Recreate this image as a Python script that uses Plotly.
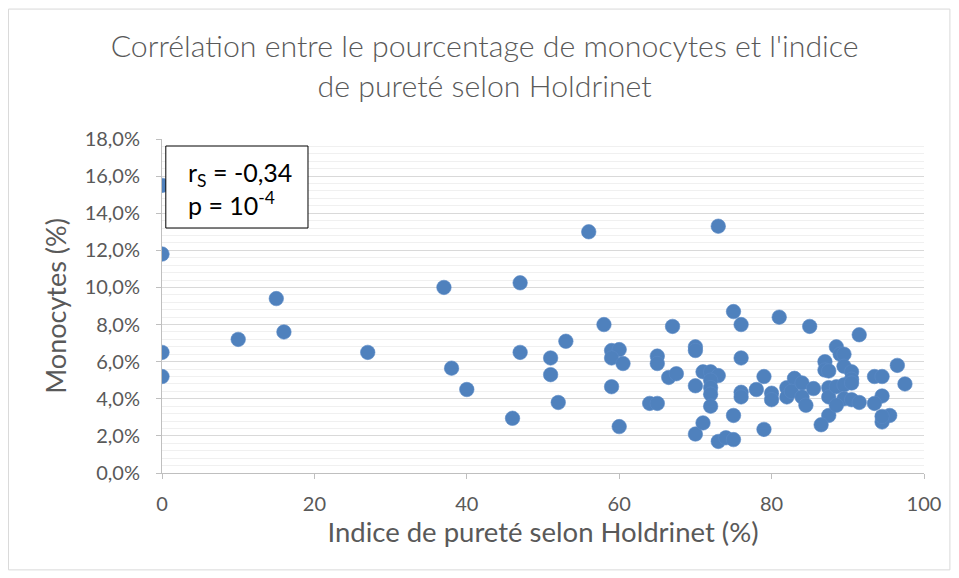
import plotly.graph_objects as go

# Indice de pureté selon Holdrinet (%)
purity = [0, 0, 0, 0, 10, 15, 16, 27, 37, 38, 40, 46, 47, 47, 51, 51, 52, 53, 56, 58,
          59, 60, 59, 60.5, 65, 65, 66.5, 67.5, 59, 64, 65, 60, 67, 70, 70, 70, 70, 71, 71, 72,
          73, 72, 72, 72, 72, 73, 73, 74, 75, 75, 76, 76, 76, 76, 75, 78, 79, 79, 80, 80,
          81, 82, 82, 83, 82.6, 84, 84, 84.5, 85, 85.5, 87, 87, 87.5, 87.5, 87.5, 87.5, 86.5, 88.5, 89, 89.5,
          89.5, 90.5, 90.5, 88.5, 89.5, 90.5, 89.5, 90.5, 91.5, 88.5, 91.5, 93.5, 94.5, 96.5, 97.5, 94.5, 93.5, 95.5, 94.5, 94.5]
# Monocytes (%)
monocytes = [15.5, 11.8, 6.5, 5.2, 7.2, 9.4, 7.6, 6.5, 10.0, 5.65, 4.5, 2.95, 10.25, 6.5, 6.2, 5.3, 3.8, 7.1, 13.0, 8.0,
             6.6, 6.65, 6.2, 5.9, 6.3, 5.9, 5.15, 5.35, 4.65, 3.75, 3.75, 2.5, 7.9, 6.8, 6.6, 4.7, 2.1, 2.7, 5.45, 5.45,
             5.25, 5.0, 4.6, 4.25, 3.6, 13.3, 1.7, 1.9, 1.8, 8.7, 8.0, 6.2, 4.35, 4.1, 3.1, 4.5, 5.2, 2.35, 4.3, 3.95,
             8.4, 4.6, 4.1, 5.1, 4.4, 4.85, 4.1, 3.65, 7.9, 4.55, 6.0, 5.55, 5.5, 4.6, 4.1, 3.1, 2.6, 6.8, 6.4, 6.4,
             5.75, 5.45, 5.05, 4.65, 4.75, 4.85, 4.0, 3.95, 3.8, 3.65, 7.45, 5.2, 5.2, 5.8, 4.8, 4.15, 3.75, 3.1, 2.75, 3.05]

x_ticks = [0, 20, 40, 60, 80, 100]

title_text = "Corrélation entre le pourcentage de monocytes et l'indice<br>de pureté selon Holdrinet"
x_title = "Indice de pureté selon Holdrinet (%)"
y_title = "Monocytes (%)"
stat_text = "r<sub>S</sub> = -0,34<br>p = 10<sup>-4</sup>"

FONT = "Lato"
GREY = "#595959"
BLUE = "#4F81BD"

fig = go.Figure()
fig.add_trace(go.Scatter(
    x=purity, y=monocytes, mode="markers",
    marker=dict(size=14.5, color=BLUE, line=dict(width=0.6, color="#5A8AC6")),
    hoverinfo="x+y", showlegend=False,
))

fig.update_layout(
    width=959, height=578,
    margin=dict(l=154, r=43, t=131, b=113),
    paper_bgcolor="white", plot_bgcolor="white",
    separators=", ",
    font=dict(family=FONT, color=GREY),
    title=dict(text=title_text, x=0.497, xanchor="center", y=0.915, yanchor="top",
               font=dict(family=FONT, size=30.3, color=GREY, weight=300)),
    xaxis=dict(range=[0, 100], tickvals=x_ticks, showgrid=False, zeroline=False,
               showline=True, linecolor="#BFBFBF", linewidth=1,
               ticks="outside", ticklen=5, tickcolor="#BFBFBF", ticklabelstandoff=8,
               tickfont=dict(family=FONT, size=20, color=GREY),
               title=dict(text=x_title, font=dict(family=FONT, size=27.5, color=GREY), standoff=2)),
    yaxis=dict(range=[0, 18], dtick=2, tickformat=".1f", ticksuffix="%",
               showgrid=True, gridcolor="#D9D9D9", gridwidth=1, zeroline=False,
               showline=True, linecolor="#BFBFBF", linewidth=1,
               ticks="outside", ticklen=5, tickcolor="#BFBFBF", ticklabelstandoff=12,
               minor=dict(dtick=0.4, showgrid=True, gridcolor="#F0F0F0", gridwidth=1, ticks=""),
               tickfont=dict(family=FONT, size=20, color=GREY),
               title=dict(text=y_title, font=dict(family=FONT, size=27, color=GREY), standoff=10)),
)

# outer chart border
fig.add_shape(type="rect", xref="paper", yref="paper",
              x0=-0.2015, x1=1.034, y0=-0.29, y1=1.389,
              line=dict(color="#D9D9D9", width=1), layer="below")

# statistics box
fig.add_shape(type="rect", xref="paper", yref="paper",
              x0=0.005, x1=0.1916, y0=0.7335, y1=0.979,
              line=dict(color="black", width=1), fillcolor="white", layer="above")
fig.add_annotation(text=stat_text, xref="paper", yref="paper", x=0.0315, y=0.853,
                   xanchor="left", yanchor="middle", align="left", showarrow=False,
                   font=dict(family=FONT, size=25, color="black"))

fig.write_html("out.html")
